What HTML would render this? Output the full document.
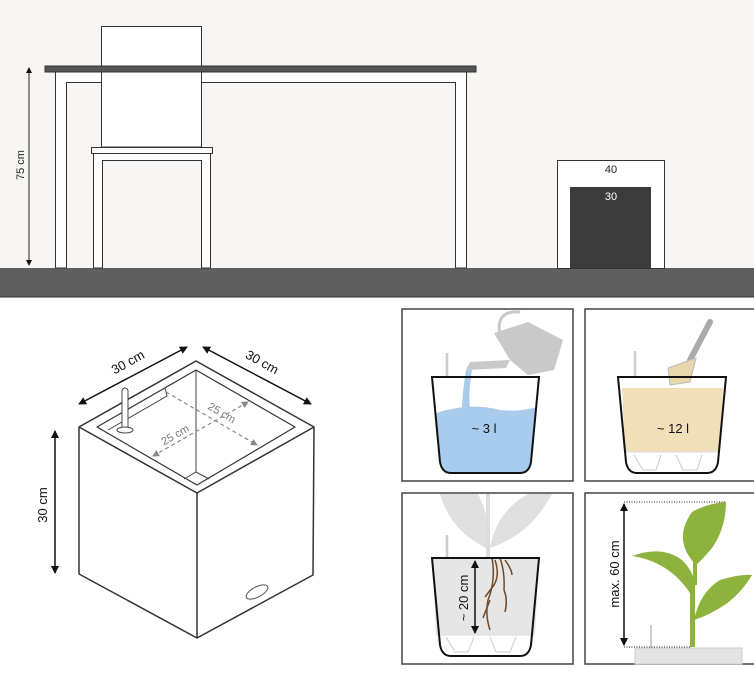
<!DOCTYPE html>
<html><head><meta charset="utf-8"><style>
html,body{margin:0;padding:0;background:#fff;}
svg{display:block;font-family:"Liberation Sans",Arial,sans-serif;}
</style></head><body>
<svg width="754" height="681" viewBox="0 0 754 681" xmlns="http://www.w3.org/2000/svg">
<defs>
<marker id="ah" markerWidth="8" markerHeight="8" refX="7" refY="4" orient="auto-start-reverse" markerUnits="userSpaceOnUse"><path d="M0,0 L8,4 L0,8 Z" fill="#111"/></marker>
<marker id="ahs" markerWidth="6" markerHeight="6" refX="5" refY="3" orient="auto-start-reverse" markerUnits="userSpaceOnUse"><path d="M0,0 L6,3 L0,6 Z" fill="#111"/></marker>
<marker id="ahg" markerWidth="7" markerHeight="7" refX="6" refY="3.5" orient="auto-start-reverse" markerUnits="userSpaceOnUse"><path d="M0,0 L7,3.5 L0,7 Z" fill="#888"/></marker>
</defs>
<rect x="0" y="0" width="754" height="268" fill="#f7f6f4"/>
<rect x="0" y="268" width="754" height="29" fill="#5f5f5f"/>
<line x1="0" y1="297" x2="754" y2="297" stroke="#333" stroke-width="1"/>
<rect x="101.5" y="26.5" width="100" height="121" fill="#fff" stroke="#333" stroke-width="1"/>
<path d="M55.5,71 L55.5,268 L66.5,268 L66.5,82.5 L455.5,82.5 L455.5,268 L466.5,268 L466.5,71" fill="#fff" stroke="#333" stroke-width="1"/>
<rect x="45" y="66" width="431" height="6" fill="#555" stroke="#333"/>
<rect x="101.5" y="72" width="100" height="75" fill="#fff" stroke="#333" stroke-width="1"/>
<path d="M93.5,153 L93.5,268 L102.5,268 L102.5,160.5 L201.5,160.5 L201.5,268 L210.5,268 L210.5,153" fill="#fff" stroke="#333" stroke-width="1"/>
<rect x="91.5" y="147.5" width="121" height="6" fill="#fff" stroke="#333" stroke-width="1"/>
<rect x="557.5" y="160.5" width="107" height="108" fill="#fff" stroke="#333" stroke-width="1"/>
<rect x="570" y="187" width="81" height="81" fill="#3b3b3b"/>
<text x="611" y="173" font-size="11" text-anchor="middle" fill="#222">40</text>
<text x="611" y="200" font-size="11" text-anchor="middle" fill="#fff">30</text>
<line x1="29" y1="68" x2="29" y2="265" stroke="#222" stroke-width="1" marker-start="url(#ahs)" marker-end="url(#ahs)"/>
<text transform="translate(24,165) rotate(-90)" font-size="11" text-anchor="middle" fill="#222">75 cm</text>

<g stroke="#333" stroke-width="1.5" fill="#fff" stroke-linejoin="round">
<path d="M79,427 L196,361 L314,427 L313,575 L197,638 L79,574 Z"/>
<path d="M79,427 L197,493 L314,427"/>
<line x1="197" y1="493" x2="197" y2="638"/>
<path d="M97,427 L196,370 L295,427 L197,485 Z" stroke-width="1.2"/>
</g>
<g stroke="#444" stroke-width="1" fill="none">
<line x1="196" y1="370" x2="196" y2="472"/>
<path d="M184,479 L196,472 L209,479"/>
<path d="M97,427 L165,388 L167,396 L108,430"/>
</g>
<rect x="122" y="388" width="6" height="42" rx="3" fill="#fff" stroke="#444"/>
<ellipse cx="125" cy="430" rx="8" ry="3" fill="#fff" stroke="#444"/>
<ellipse cx="257" cy="592" rx="12" ry="5" transform="rotate(-28 257 592)" fill="#fff" stroke="#555"/>
<line x1="79" y1="404" x2="187" y2="347" stroke="#111" stroke-width="1.5" marker-start="url(#ah)" marker-end="url(#ah)"/>
<text transform="translate(130,366) rotate(-29)" font-size="13" text-anchor="middle" fill="#111">30 cm</text>
<line x1="203" y1="347" x2="311" y2="404" stroke="#111" stroke-width="1.5" marker-start="url(#ah)" marker-end="url(#ah)"/>
<text transform="translate(260,366) rotate(29)" font-size="13" text-anchor="middle" fill="#111">30 cm</text>
<line x1="55" y1="431" x2="55" y2="573" stroke="#111" stroke-width="1.5" marker-start="url(#ah)" marker-end="url(#ah)"/>
<text transform="translate(47,505) rotate(-90)" font-size="13" text-anchor="middle" fill="#111">30 cm</text>
<line x1="166" y1="392" x2="257" y2="445" stroke="#888" stroke-width="1.2" stroke-dasharray="4,3" marker-end="url(#ahg)"/>
<line x1="153" y1="456" x2="248" y2="402" stroke="#888" stroke-width="1.2" stroke-dasharray="4,3" marker-start="url(#ahg)" marker-end="url(#ahg)"/>
<text transform="translate(220,416) rotate(30)" font-size="11" text-anchor="middle" fill="#777">25 cm</text>
<text transform="translate(177,438) rotate(-30)" font-size="11" text-anchor="middle" fill="#777">25 cm</text>

<g fill="#fff" stroke="#444" stroke-width="1.5">
<rect x="402" y="309" width="171" height="172"/>
<rect x="585" y="309" width="171" height="172"/>
<rect x="402" y="493" width="171" height="171"/>
<rect x="585" y="493" width="171" height="171"/>
</g>
<!-- panel1 -->
<path d="M494,333 L528,322 L563,340 L554,370 L528,375 L510,360 Z" fill="#c9c9c9"/>
<path d="M500,335 Q495,310 520,312" fill="none" stroke="#c9c9c9" stroke-width="3"/>
<path d="M510,360 L470,362 L466,370 L506,368 Z" fill="#c9c9c9"/>
<line x1="447" y1="353" x2="447" y2="377" stroke="#ccc" stroke-width="2.5"/>
<path d="M436,413 Q470,402 500,410 Q520,412 537,407 L531,462 Q529,473 520,473 L451,473 Q442,473 440,462 Z" fill="#a9ccec"/>
<path d="M466,370 Q462,395 462,410 L470,410 Q468,392 472,370 Z" fill="#a9ccec"/>
<path d="M432,377 L539,377 L531,462 Q529,473 520,473 L451,473 Q442,473 440,462 Z" fill="none" stroke="#111" stroke-width="2"/>
<text x="484" y="433" font-size="13" text-anchor="middle" fill="#111">~ 3 l</text>
<!-- panel2 -->
<line x1="635" y1="351" x2="635" y2="377" stroke="#ccc" stroke-width="2.5"/>
<line x1="710" y1="322" x2="690" y2="360" stroke="#aaa" stroke-width="6" stroke-linecap="round"/>
<path d="M668,368 L696,358 L690,382 L670,385 Z" fill="#e8d6ac" stroke="#bbb"/>
<path d="M622,388 L723,388 L720,452 L625,452 Z" fill="#f0dfb8"/>
<path d="M634,455 L643,470 L656,470 L661,455 M676,455 L683,470 L697,470 L702,455" fill="none" stroke="#ccc"/>
<line x1="625" y1="452" x2="720" y2="452" stroke="#ddd"/>
<path d="M618,377 L726,377 L718,462 Q716,473 707,473 L637,473 Q628,473 626,462 Z" fill="none" stroke="#111" stroke-width="2"/>
<text x="673" y="433" font-size="13" text-anchor="middle" fill="#111">~ 12 l</text>
<!-- panel3 -->
<path d="M486,548 Q450,530 440,494 L478,494 Q492,520 486,548 Z" fill="#e0e0e0"/>
<path d="M490,548 Q496,512 528,494 L552,494 Q530,535 490,548 Z" fill="#e0e0e0"/>
<line x1="488" y1="494" x2="488" y2="558" stroke="#ddd" stroke-width="4"/>
<line x1="447" y1="535" x2="447" y2="558" stroke="#ccc" stroke-width="2.5"/>
<path d="M432,558 L539,558 L535,635 L436,635 Z" fill="#e6e6e6"/>
<path d="M446,637 L455,652 L468,652 L474,637 M490,637 L496,652 L510,652 L516,637" fill="none" stroke="#ccc"/>
<line x1="436" y1="635" x2="535" y2="635" stroke="#ddd"/>
<g fill="none" stroke="#6e4a2a" stroke-width="1.5">
<path d="M492,558 Q496,580 488,600 Q485,615 490,630"/>
<path d="M495,560 Q500,575 494,585 L485,597"/>
<path d="M500,558 Q505,572 504,590 Q508,600 505,612"/>
<path d="M505,560 Q512,570 512,575"/>
<path d="M490,600 L483,618"/>
</g>
<line x1="475" y1="561" x2="475" y2="633" stroke="#111" stroke-width="1.5" marker-start="url(#ah)" marker-end="url(#ah)"/>
<text transform="translate(468,598) rotate(-90)" font-size="13" text-anchor="middle" fill="#111">~ 20 cm</text>
<path d="M432,558 L539,558 L531,645 Q529,656 520,656 L451,656 Q442,656 440,645 Z" fill="none" stroke="#111" stroke-width="2"/>
<!-- panel4 -->
<rect x="635" y="648" width="107" height="16" fill="#e4e4e4" stroke="#ccc"/>
<line x1="651" y1="625" x2="651" y2="648" stroke="#ccc" stroke-width="2"/>
<line x1="624" y1="502" x2="725" y2="502" stroke="#222" stroke-dasharray="1,1.5"/>
<line x1="624" y1="647" x2="690" y2="647" stroke="#222" stroke-dasharray="1,1.5"/>
<line x1="624" y1="504" x2="624" y2="645" stroke="#111" stroke-width="1.5" marker-start="url(#ah)" marker-end="url(#ah)"/>
<text transform="translate(619,574) rotate(-90)" font-size="13" text-anchor="middle" fill="#111">max. 60 cm</text>
<g fill="#8db33d">
<rect x="690" y="580" width="5" height="67"/>
<rect x="693" y="550" width="4" height="35"/>
<path d="M693,598 Q672,562 632,556 Q662,545 682,560 Q700,578 693,598 Z"/>
<path d="M696,565 Q672,540 692,512 Q708,503 726,502 Q726,528 712,548 Q702,560 696,565 Z"/>
<path d="M694,620 Q700,592 720,580 Q740,574 752,575 Q742,592 726,604 Q710,615 694,620 Z"/>
</g>
</svg>
</body></html>
